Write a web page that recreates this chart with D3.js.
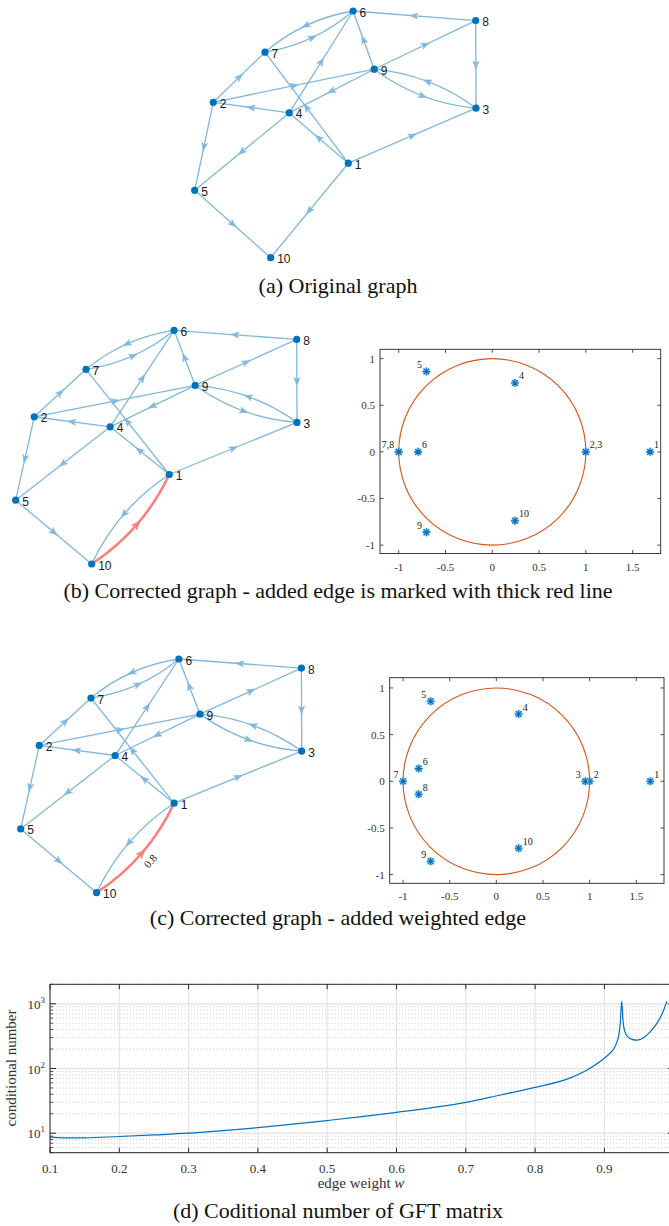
<!DOCTYPE html>
<html><head><meta charset="utf-8">
<script src="https://cdn.jsdelivr.net/npm/d3@7"></script>
<style>body{margin:0;background:#fff}svg{display:block}</style>
</head><body>
<script>
// ---------------- DATA ----------------
// node layout (abstract graph-layout coordinates)
const nodeIds = [1,2,3,4,5,6,7,8,9,10];
const layoutX = [5.46,0.66,10.0,3.36,0.0,5.63,2.50,9.99,6.38,2.70];
const layoutY = [3.83,6.30,6.06,5.87,2.73,10.0,8.33,9.61,7.64,0.0];
// directed edges of the original graph
const edgeFrom = [8,8,9,9,6,7,4,1,1,2,2,4,9,9,3,1,2,4,5,1];
const edgeTo   = [6,3,8,6,7,6,6,7,4,7,9,2,4,3,9,3,5,5,10,10];
// added edge
const addedFrom = [10];
const addedTo = [1];
const addedWeight = ["0.8"];

// eigenvalues, panel (b)
const eigB_re = [1.686,1.0,1.0,0.243,-0.704,-0.793,-1.0,-1.0,-0.704,0.243];
const eigB_im = [0,0,0,0.739,0.861,0,0,0,-0.861,-0.739];
const eigB_lab = ["1","2,3","","4","5","6","7,8","","9","10"];
const eigB_side = ["r","r","","r","l","r","l","","l","r"];
// eigenvalues, panel (c)
const eigC_re = [1.65,1.0,0.954,0.239,-0.704,-0.832,-1.0,-0.832,-0.704,0.239];
const eigC_im = [0,0,0,0.721,0.857,0.136,0,-0.139,-0.857,-0.718];
const eigC_lab = ["1","2","3","4","5","6","7","8","9","10"];
const eigC_side = ["r","r","l","r","l","r","l","r","l","r"];
const scatTicksX = [-1,-0.5,0,0.5,1,1.5];
const scatTicksY = [-1,-0.5,0,0.5,1];

// condition number vs edge weight, panel (d)
const weightW = [0.10,0.12,0.15,0.20,0.25,0.30,0.35,0.40,0.45,0.50,0.55,0.60,0.65,0.70,0.75,0.80,0.85,0.88,0.90,0.905,0.91,0.915,0.918,0.921,0.923,0.925,0.927,0.93,0.935,0.94,0.947,0.956,0.966,0.9755,0.985,0.99];
const condNum = [8.7,8.5,8.5,8.9,9.4,10.0,11.0,12.2,13.8,15.7,18.0,21.0,24.7,29.9,39,51,71,102,144,160,180,215,255,340,520,1100,520,360,300,282,274,296,367,493,771,1100];
const dTicksX = [0.1,0.2,0.3,0.4,0.5,0.6,0.7,0.8,0.9,1.0];
const dTickLabelsX = ["0.1","0.2","0.3","0.4","0.5","0.6","0.7","0.8","0.9",""];
const dTicksY = [10,100,1000];

const captions = ["(a) Original graph",
  "(b) Corrected graph - added edge is marked with thick red line",
  "(c) Corrected graph - added weighted edge",
  "(d) Coditional number of GFT matrix"];

// ---------------- DRAW ----------------
const W=669,H=1226;
const SERIF="'Liberation Serif','Times New Roman',serif";
const SANS="'Liberation Sans',Arial,Helvetica,sans-serif";
const EDGE="#80b7de", RED="#f88080", NODE="#0072bd", ORANGE="#d95319", AX="#262626";
const svg=d3.select("body").append("svg").attr("width",W).attr("height",H);
svg.append("rect").attr("width",W).attr("height",H).attr("fill","#fff");

function drawGraph(xr, yr, withAdded, withWeight){
  const g=svg.append("g");
  const sx=d3.scaleLinear().domain(d3.extent(layoutX)).range(xr);
  const sy=d3.scaleLinear().domain(d3.extent(layoutY)).range(yr);
  const pos=id=>[sx(layoutX[id-1]), sy(layoutY[id-1])];
  const edges=edgeFrom.map((f,i)=>({s:f,t:edgeTo[i],added:false}));
  if(withAdded) addedFrom.forEach((f,i)=>edges.push({s:f,t:addedTo[i],added:true,label:withWeight?addedWeight[i]:null}));
  const keys=new Set(edges.map(e=>e.s+"-"+e.t));
  edges.sort((a,b)=>a.added-b.added);
  edges.forEach(e=>{
    const [x0,y0]=pos(e.s),[x1,y1]=pos(e.t);
    const dx=x1-x0,dy=y1-y0,L=Math.hypot(dx,dy);
    const curved=keys.has(e.t+"-"+e.s);
    const k=curved?0.14*L:0;
    const nx=-dy/L,ny=dx/L;
    const cx=(x0+x1)/2+nx*k, cy=(y0+y1)/2+ny*k;
    const p=d3.path(); p.moveTo(x0,y0); p.quadraticCurveTo(cx,cy,x1,y1);
    const col=e.added?RED:EDGE;
    g.append("path").attr("d",p.toString()).attr("fill","none")
      .attr("stroke",col).attr("stroke-width",e.added?2.6:1.3);
    const mx=0.25*x0+0.5*cx+0.25*x1, my=0.25*y0+0.5*cy+0.25*y1;
    const ang=Math.atan2(dy,dx)*180/Math.PI;
    const s=e.added?1.15:1;
    g.append("path").attr("d","M4.5,0 L-3.5,-3 L-1.5,0 L-3.5,3 Z")
      .attr("transform",`translate(${mx},${my}) rotate(${ang}) scale(${s})`)
      .attr("fill",col).attr("stroke",col).attr("stroke-width",0.6);
    if(e.label){
      const off=13;
      const lx=mx+nx*off, ly=my+ny*off;
      g.append("text").attr("x",lx).attr("y",ly)
        .attr("transform",`rotate(${ang},${lx},${ly})`)
        .attr("text-anchor","middle").attr("dominant-baseline","middle")
        .attr("font-family",SERIF).attr("font-size",11).attr("fill","#222").text(e.label);
    }
  });
  nodeIds.forEach(id=>{
    const [x,y]=pos(id);
    g.append("circle").attr("cx",x).attr("cy",y).attr("r",3.6).attr("fill",NODE);
    g.append("text").attr("x",x+6.5).attr("y",y+5.5).attr("font-family",SANS)
      .attr("font-size",12).attr("fill","#1a1a1a").text(id);
  });
}

function star(g,x,y){
  const r=4, d=r*0.72;
  const p=`M${x-r},${y}L${x+r},${y}M${x},${y-r}L${x},${y+r}M${x-d},${y-d}L${x+d},${y+d}M${x-d},${y+d}L${x+d},${y-d}`;
  g.append("path").attr("d",p).attr("stroke","#a6cdec").attr("stroke-width",2.4).attr("fill","none");
  g.append("path").attr("d",p).attr("stroke",NODE).attr("stroke-width",1.1).attr("fill","none");
}

function drawScatter(x0,x1,y0,y1,xlim,ylim,re,im,lab,side){
  const g=svg.append("g");
  const sx=d3.scaleLinear().domain(xlim).range([x0,x1]);
  const sy=d3.scaleLinear().domain(ylim).range([y1,y0]);
  const tl=3.5;
  scatTicksX.forEach(t=>{
    g.append("line").attr("x1",sx(t)).attr("x2",sx(t)).attr("y1",y1).attr("y2",y1-tl).attr("stroke",AX).attr("stroke-width",0.8);
    g.append("line").attr("x1",sx(t)).attr("x2",sx(t)).attr("y1",y0).attr("y2",y0+tl).attr("stroke",AX).attr("stroke-width",0.8);
    g.append("text").attr("x",sx(t)).attr("y",y1+17).attr("text-anchor","middle")
      .attr("font-family",SERIF).attr("font-size",11).attr("fill","#333").text(String(t));
  });
  scatTicksY.forEach(t=>{
    g.append("line").attr("x1",x0).attr("x2",x0+tl).attr("y1",sy(t)).attr("y2",sy(t)).attr("stroke",AX).attr("stroke-width",0.8);
    g.append("line").attr("x1",x1).attr("x2",x1-tl).attr("y1",sy(t)).attr("y2",sy(t)).attr("stroke",AX).attr("stroke-width",0.8);
    g.append("text").attr("x",x0-5).attr("y",sy(t)+4).attr("text-anchor","end")
      .attr("font-family",SERIF).attr("font-size",11).attr("fill","#333").text(String(t));
  });
  g.append("rect").attr("x",x0).attr("y",y0).attr("width",x1-x0).attr("height",y1-y0)
    .attr("fill","none").attr("stroke",AX).attr("stroke-width",0.9);
  g.append("ellipse").attr("cx",sx(0)).attr("cy",sy(0)).attr("rx",sx(1)-sx(0)).attr("ry",sy(0)-sy(1))
    .attr("fill","none").attr("stroke",ORANGE).attr("stroke-width",1.1);
  re.forEach((r,i)=>star(g,sx(r),sy(im[i])));
  lab.forEach((l,i)=>{
    if(!l) return;
    const x=sx(re[i]),y=sy(im[i]);
    g.append("text").attr("x",side[i]==="r"?x+4:x-4.5).attr("y",y-3.5)
      .attr("text-anchor",side[i]==="r"?"start":"end")
      .attr("font-family",SERIF).attr("font-size",10).attr("fill","#222").text(l);
  });
}

function drawD(){
  const g=svg.append("g");
  const x0=50,x1=673.7,y0=984.3,y1=1152.7;
  const sx=d3.scaleLinear().domain([0.1,1.0]).range([x0,x1]);
  const sy=d3.scaleLog().domain([5,2000]).range([y1,y0]);
  const clip=svg.append("clipPath").attr("id","dclip");
  clip.append("rect").attr("x",x0).attr("y",y0).attr("width",x1-x0).attr("height",y1-y0);
  const minors=[];
  [1,10,100,1000].forEach(dec=>{for(let m=2;m<=9;m++){const v=m*dec; if(v>=5&&v<=2000) minors.push(v);}});
  minors.forEach(v=>{
    g.append("line").attr("x1",x0).attr("x2",x1).attr("y1",sy(v)).attr("y2",sy(v))
      .attr("stroke","#bdbdbd").attr("stroke-width",0.8).attr("stroke-dasharray","1,2.2");
  });
  dTicksX.forEach(t=>{
    g.append("line").attr("x1",sx(t)).attr("x2",sx(t)).attr("y1",y0).attr("y2",y1)
      .attr("stroke","#e0e0e0").attr("stroke-width",1);
  });
  dTicksY.forEach(t=>{
    g.append("line").attr("x1",x0).attr("x2",x1).attr("y1",sy(t)).attr("y2",sy(t))
      .attr("stroke","#e0e0e0").attr("stroke-width",1.2);
  });
  const line=d3.line().x((d,i)=>sx(weightW[i])).y((d,i)=>sy(condNum[i])).curve(d3.curveMonotoneX);
  g.append("path").attr("d",line(condNum)).attr("fill","none").attr("stroke",NODE)
    .attr("stroke-width",1.2).attr("clip-path","url(#dclip)");
  [[x0,y0,x1,y0],[x0,y1,x1,y1],[x0,y0,x0,y1],[x1,y0,x1,y1]].forEach(l=>{
    g.append("line").attr("x1",l[0]).attr("y1",l[1]).attr("x2",l[2]).attr("y2",l[3]).attr("stroke",AX).attr("stroke-width",1);
  });
  dTicksX.forEach((t,i)=>{
    g.append("line").attr("x1",sx(t)).attr("x2",sx(t)).attr("y1",y1).attr("y2",y1-5).attr("stroke",AX).attr("stroke-width",1);
    g.append("line").attr("x1",sx(t)).attr("x2",sx(t)).attr("y1",y0).attr("y2",y0+5).attr("stroke",AX).attr("stroke-width",1);
    if(dTickLabelsX[i]) g.append("text").attr("x",sx(t)).attr("y",y1+20).attr("text-anchor","middle")
      .attr("font-family",SERIF).attr("font-size",13).attr("fill","#333").text(dTickLabelsX[i]);
  });
  minors.forEach(v=>{
    g.append("line").attr("x1",x0).attr("x2",x0+3).attr("y1",sy(v)).attr("y2",sy(v)).attr("stroke",AX).attr("stroke-width",0.8);
    g.append("line").attr("x1",x1).attr("x2",x1-3).attr("y1",sy(v)).attr("y2",sy(v)).attr("stroke",AX).attr("stroke-width",0.8);
  });
  dTicksY.forEach(t=>{
    g.append("line").attr("x1",x0).attr("x2",x0+6).attr("y1",sy(t)).attr("y2",sy(t)).attr("stroke",AX).attr("stroke-width",1);
    g.append("line").attr("x1",x1).attr("x2",x1-6).attr("y1",sy(t)).attr("y2",sy(t)).attr("stroke",AX).attr("stroke-width",1);
    const tx=g.append("text").attr("x",x0-5).attr("y",sy(t)+5).attr("text-anchor","end")
      .attr("font-family",SERIF).attr("font-size",13).attr("fill","#333");
    tx.append("tspan").text("10");
    tx.append("tspan").attr("dy",-6).attr("font-size",9).text(String(Math.round(Math.log10(t))));
  });
  const xl=g.append("text").attr("x",361).attr("y",1188).attr("text-anchor","middle")
    .attr("font-family",SERIF).attr("font-size",15).attr("fill","#333");
  xl.append("tspan").text("edge weight ");
  xl.append("tspan").attr("font-style","italic").text("w");
  g.append("text").attr("transform","translate(16,1068) rotate(-90)").attr("text-anchor","middle")
    .attr("font-family",SERIF).attr("font-size",15).attr("fill","#333").text("conditional number");
}

drawGraph([194.7,476],[257.7,11],false,false);
drawGraph([15.7,297],[564,330.3],true,false);
drawGraph([20.7,301.7],[892.7,659],true,true);
drawScatter(380,660.7,349.3,553.5,[-1.2,1.8],[-1.09,1.1],eigB_re,eigB_im,eigB_lab,eigB_side);
drawScatter(389.7,664,677.7,883.3,[-1.143,1.797],[-1.093,1.11],eigC_re,eigC_im,eigC_lab,eigC_side);
drawD();

const capY=[293,598,925,1218];
captions.forEach((c,i)=>{
  svg.append("text").attr("x",338).attr("y",capY[i]).attr("text-anchor","middle")
    .attr("font-family",SERIF).attr("font-size",22).attr("fill","#111").text(c);
});
</script>
</body></html>
